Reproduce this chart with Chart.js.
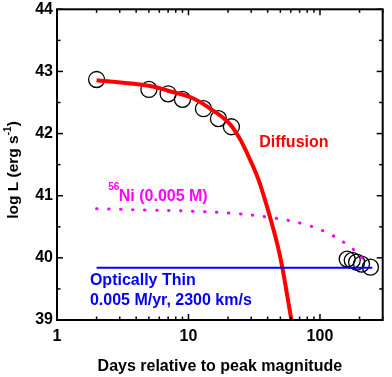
<!DOCTYPE html>
<html><head><meta charset="utf-8">
<script src="https://cdn.jsdelivr.net/npm/chart.js@4"></script>
<style>html,body{margin:0;padding:0;background:#fff;}#wrap{width:392px;height:377px;position:relative;}</style>
</head><body><div id="wrap"><canvas id="c"></canvas></div>
<script>
// ---- data ----
const obsDays = [2, 5, 7, 9, 13, 16.9, 21.2, 161, 176, 190, 207, 242];
const obsLogL = [42.87, 42.71, 42.64, 42.55, 42.4, 42.24, 42.11, 39.98, 39.96, 39.93, 39.90, 39.85];
const diffDays = [2, 5, 7, 10.5, 14.9, 19.85, 23.6, 28.1, 33.5, 37.6, 42.3, 47.5, 51.8, 56.5, 60.6];
const diffLogL = [42.86, 42.77, 42.69, 42.58, 42.39, 42.19, 41.98, 41.67, 41.30, 40.98, 40.61, 40.21, 39.84, 39.38, 39.0];
const niDays = [2, 4.8, 10.8, 20.5, 38.8, 73.5, 117, 176, 215];
const niLogL = [40.79, 40.77, 40.75, 40.72, 40.66, 40.55, 40.39, 40.15, 39.97];
const thinDays = [2, 250];
const thinLogL = [39.84, 39.84];
const xTickValues = [1, 10, 100];
const yTickValues = [39, 40, 41, 42, 43, 44];
const xMinorTicks = [2,3,4,5,6,7,8,9,20,30,40,50,60,70,80,90,200,300];
const yMinorTicks = [39.5, 40.5, 41.5, 42.5, 43.5];

const FONT = "'Liberation Sans', Arial, Helvetica, sans-serif";
Chart.defaults.font.family = FONT;
Chart.defaults.color = '#000';

const zip = (xs, ys) => xs.map((x, i) => ({x, y: ys[i]}));

const annotations = [
  {text: 'Diffusion', x: 34.5, y: 41.85, color: '#ff0000', size: 16},
  {text: 'Ni (0.005 M)', x: 2.95, y: 40.99, color: '#ff00ff', size: 16},
  {text: '56', x: 2.45, y: 41.13, color: '#ff00ff', size: 10},
  {text: 'Optically Thin', x: 1.78, y: 39.64, color: '#0000ff', size: 16},
  {text: '0.005 M/yr, 2300 km/s', x: 1.78, y: 39.32, color: '#0000ff', size: 16}
];

const framePlugin = {
  id: 'frame',
  afterDraw(chart) {
    const {ctx, chartArea: a, scales: {x, y}} = chart;
    ctx.save();
    ctx.strokeStyle = '#000';
    ctx.lineWidth = 1.5;
    const tick = (x1, y1, x2, y2) => { ctx.beginPath(); ctx.moveTo(x1, y1); ctx.lineTo(x2, y2); ctx.stroke(); };
    xTickValues.forEach(v => { const p = x.getPixelForValue(v); tick(p, a.bottom, p, a.bottom - 6); tick(p, a.top, p, a.top + 6); });
    xMinorTicks.forEach(v => { const p = x.getPixelForValue(v); tick(p, a.bottom, p, a.bottom - 3.5); tick(p, a.top, p, a.top + 3.5); });
    yTickValues.forEach(v => { const p = y.getPixelForValue(v); tick(a.left, p, a.left + 6, p); tick(a.right, p, a.right - 6, p); });
    yMinorTicks.forEach(v => { const p = y.getPixelForValue(v); tick(a.left, p, a.left + 3.5, p); tick(a.right, p, a.right - 3.5, p); });
    ctx.lineWidth = 2;
    ctx.strokeRect(a.left, a.top, a.right - a.left, a.bottom - a.top);
    ctx.textBaseline = 'middle';
    ctx.textAlign = 'left';
    annotations.forEach(t => {
      ctx.font = `bold ${t.size}px ${FONT}`;
      ctx.fillStyle = t.color;
      ctx.fillText(t.text, x.getPixelForValue(t.x), y.getPixelForValue(t.y));
    });
    // y-axis title with superscript
    const parts = [['log L (erg s', 15.5, 0], ['-1', 10, -6], [')', 15.5, 0]];
    let total = 0;
    parts.forEach(p => { ctx.font = `bold ${p[1]}px ${FONT}`; p.push(ctx.measureText(p[0]).width); total += p[3]; });
    ctx.translate(14, 170);
    ctx.rotate(-Math.PI / 2);
    ctx.fillStyle = '#000';
    let cx = -total / 2;
    parts.forEach(p => { ctx.font = `bold ${p[1]}px ${FONT}`; ctx.fillText(p[0], cx, p[2]); cx += p[3]; });
    ctx.restore();
  }
};

new Chart(document.getElementById('c'), {
  type: 'scatter',
  data: {
    datasets: [
      {label: 'Optically thin', type: 'line', data: zip(thinDays, thinLogL), borderColor: '#0000ff', borderWidth: 2, pointRadius: 0, fill: false},
      {label: 'Diffusion', type: 'line', data: zip(diffDays, diffLogL), borderColor: '#ff0000', borderWidth: 4, pointRadius: 0, fill: false, tension: 0.4},
      {label: '56Ni', type: 'line', data: zip(niDays, niLogL), borderColor: '#ff00ff', borderWidth: 3, borderDash: [0.5, 11.5], borderCapStyle: 'round', pointRadius: 0, fill: false, tension: 0.4},
      {label: 'Observed', data: zip(obsDays, obsLogL), pointRadius: 8, pointBorderWidth: 1.3, pointBorderColor: '#000', pointBackgroundColor: 'rgba(0,0,0,0)', showLine: false}
    ]
  },
  options: {
    responsive: true,
    maintainAspectRatio: false,
    animation: false,
    clip: false,
    layout: {padding: {top: 8, right: 7.5, left: 0, bottom: 0}},
    plugins: {legend: {display: false}, tooltip: {enabled: false}},
    scales: {
      x: {
        type: 'logarithmic', min: 1, max: 300,
        grid: {display: false, drawTicks: false}, border: {display: false},
        afterBuildTicks: s => { s.ticks = xTickValues.map(v => ({value: v})); },
        ticks: {font: {size: 16, weight: 'bold'}, color: '#000', padding: 7, maxRotation: 0, autoSkip: false, callback: v => String(v)},
        title: {display: true, text: 'Days relative to peak magnitude', font: {size: 16, weight: 'bold'}, color: '#000', padding: {top: 4, bottom: 1}},
        afterFit: s => { s.height = 57; s.paddingLeft = 0; s.paddingRight = 0; }
      },
      y: {
        min: 39, max: 44,
        grid: {display: false, drawTicks: false}, border: {display: false},
        afterBuildTicks: s => { s.ticks = yTickValues.map(v => ({value: v})); },
        ticks: {font: {size: 16, weight: 'bold'}, color: '#000', padding: 4, callback: v => String(v)},
        title: {display: false},
        afterFit: s => { s.width = 57; s.paddingTop = 0; s.paddingBottom = 0; }
      }
    }
  },
  plugins: [framePlugin]
});
</script></body></html>
